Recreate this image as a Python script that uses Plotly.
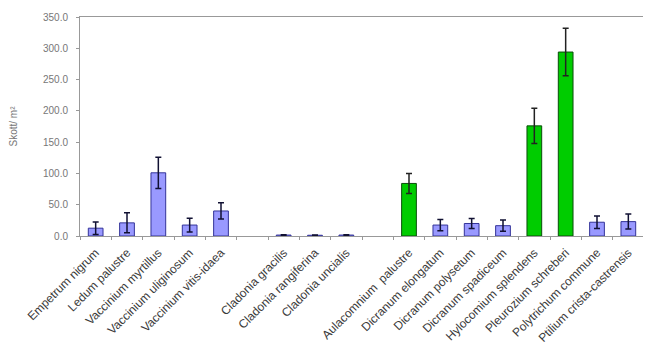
import plotly.graph_objects as go

categories = [
    "Empetrum nigrum", "Ledum palustre", "Vaccinium myrtillus",
    "Vaccinium uliginosum", "Vaccinium vitis-idaea", " ",
    "Cladonia gracilis", "Cladonia rangiferina", "Cladonia uncialis", "  ",
    "Aulacomnium  palustre", "Dicranum elongatum", "Dicranum polysetum",
    "Dicranum spadiceum", "Hylocomium splendens", "Pleurozium schreberi",
    "Polytrichum commune", "Ptilium crista-castrensis",
]
values = [12.5, 21, 101, 17.5, 40, None,
          1.5, 1.2, 1.5, None,
          84, 17.5, 20, 16.5, 176, 294, 22, 23]
errors = [10, 16, 25, 11, 13, None,
          0.6, 0.5, 0.6, None,
          16, 9, 8, 9, 28, 38, 10, 12]
green_species = ["Aulacomnium  palustre", "Hylocomium splendens", "Pleurozium schreberi"]

blue_x, blue_y, blue_e, green_x, green_y, green_e = [], [], [], [], [], []
for c, v, e in zip(categories, values, errors):
    if v is None:
        continue
    if c in green_species:
        green_x.append(c); green_y.append(v); green_e.append(e)
    else:
        blue_x.append(c); blue_y.append(v); blue_e.append(e)

fig = go.Figure()
fig.add_trace(go.Bar(
    x=blue_x, y=blue_y, width=0.47,
    marker=dict(color="#9999FF", line=dict(color="#333399", width=1)),
    error_y=dict(type="data", array=blue_e, visible=True, color="#111133", thickness=1.5, width=3),
    showlegend=False,
))
fig.add_trace(go.Bar(
    x=green_x, y=green_y, width=0.47,
    marker=dict(color="#00CC00", line=dict(color="#0b4d0b", width=1)),
    error_y=dict(type="data", array=green_e, visible=True, color="#222222", thickness=1.5, width=3),
    showlegend=False,
))

# the page body adds an 8px offset, so margins compensate for it
fig.update_layout(
    width=643, height=350,
    margin=dict(l=72, r=7, t=9, b=122),
    paper_bgcolor="white", plot_bgcolor="white",
    barmode="overlay",
    font=dict(family="Liberation Sans, Arial, sans-serif", color="#555555", size=10),
)
fig.update_xaxes(
    type="category", categoryorder="array", categoryarray=categories,
    tickmode="array", tickvals=categories, ticktext=[c.strip() for c in categories],
    tickangle=-45, tickson="boundaries", ticks="outside", ticklen=3,
    tickcolor="#999999", automargin=False, ticklabelstandoff=4,
    showline=True, linecolor="#999999", linewidth=1, mirror=True,
    tickfont=dict(size=12, color="#3a3a3a"),
    showgrid=False,
)
fig.update_yaxes(
    range=[0, 350], dtick=50, tickformat=".1f",
    ticks="outside", ticklen=3, tickcolor="#999999", automargin=False,
    ticklabelstandoff=6,
    showline=True, linecolor="#999999", linewidth=1, mirror=True,
    showgrid=False, zeroline=False,
    tickfont=dict(size=10, color="#777777"),
    title=dict(text="Skott/ m²", font=dict(size=10, color="#777777"), standoff=30),
)

fig.write_html("out.html")
